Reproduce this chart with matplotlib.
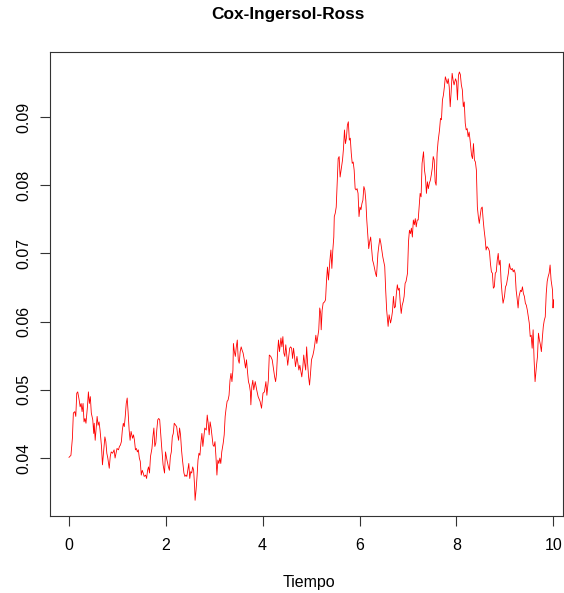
import numpy as np
import matplotlib
matplotlib.use("Agg")
import matplotlib.pyplot as plt

plt.rcParams['font.family'] = ['Liberation Sans', 'DejaVu Sans']

# Trayectoria, por tramos de tiempo
t_a = [0.01, 0.05, 0.08, 0.10, 0.13, 0.15, 0.17, 0.19, 0.22, 0.24, 0.26, 0.28, 0.30, 0.32, 0.34, 0.36,
       0.39, 0.41, 0.43, 0.45, 0.47, 0.50, 0.52, 0.53, 0.55, 0.57, 0.59, 0.61, 0.63, 0.65, 0.68, 0.70,
       0.73, 0.75, 0.77, 0.79, 0.81, 0.84, 0.86, 0.88, 0.91, 0.94, 0.96, 0.98, 1.00, 1.03, 1.05, 1.07,
       1.09, 1.11, 1.13, 1.15, 1.17, 1.19, 1.21, 1.23, 1.25, 1.27, 1.29, 1.32, 1.34, 1.36, 1.38, 1.40,
       1.42, 1.44, 1.46, 1.48, 1.50, 1.52, 1.54, 1.56, 1.59, 1.61, 1.63, 1.65, 1.67, 1.69, 1.72, 1.74,
       1.76, 1.78, 1.80, 1.82, 1.84, 1.86, 1.88]
v_a = [0.0401, 0.0404, 0.0429, 0.0466, 0.0468, 0.0461, 0.0495, 0.0497, 0.0485, 0.0475, 0.0480, 0.0468,
       0.0480, 0.0453, 0.0458, 0.0451, 0.0475, 0.0497, 0.0480, 0.0490, 0.0466, 0.0456, 0.0436, 0.0451,
       0.0426, 0.0444, 0.0461, 0.0448, 0.0453, 0.0441, 0.0417, 0.0390, 0.0414, 0.0431, 0.0424, 0.0407,
       0.0400, 0.0385, 0.0402, 0.0409, 0.0407, 0.0412, 0.0400, 0.0407, 0.0414, 0.0412, 0.0417, 0.0419,
       0.0424, 0.0441, 0.0451, 0.0446, 0.0461, 0.0480, 0.0488, 0.0466, 0.0441, 0.0426, 0.0439, 0.0429,
       0.0434, 0.0426, 0.0412, 0.0414, 0.0409, 0.0412, 0.0400, 0.0395, 0.0375, 0.0382, 0.0378, 0.0373,
       0.0375, 0.0370, 0.0382, 0.0387, 0.0378, 0.0402, 0.0414, 0.0431, 0.0444, 0.0417, 0.0422, 0.0441,
       0.0456, 0.0458, 0.0456]

t_b = [1.92, 1.95, 1.98, 2.00, 2.03, 2.06, 2.08, 2.10, 2.12, 2.14, 2.16, 2.18, 2.21, 2.23, 2.25, 2.27,
       2.29, 2.31, 2.33, 2.35, 2.38, 2.40, 2.42, 2.44, 2.46, 2.48, 2.50, 2.52, 2.54, 2.56, 2.58, 2.60,
       2.61, 2.63, 2.65, 2.67, 2.69, 2.71, 2.73, 2.75, 2.77, 2.79, 2.81, 2.84, 2.86, 2.88, 2.90, 2.92,
       2.94, 2.96, 2.98, 3.00, 3.02, 3.04, 3.06, 3.08, 3.10, 3.12, 3.14, 3.16, 3.19, 3.21, 3.23, 3.25,
       3.27, 3.29, 3.31, 3.33, 3.35, 3.37, 3.39, 3.40, 3.42, 3.44, 3.46, 3.48, 3.50, 3.52, 3.54, 3.56,
       3.58, 3.60, 3.62, 3.65, 3.67, 3.69, 3.71, 3.73, 3.75, 3.76, 3.78, 3.80, 3.82, 3.85]
v_b = [0.0417, 0.0390, 0.0378, 0.0409, 0.0397, 0.0387, 0.0382, 0.0402, 0.0409, 0.0431, 0.0436, 0.0451,
       0.0448, 0.0446, 0.0434, 0.0426, 0.0444, 0.0434, 0.0412, 0.0397, 0.0378, 0.0373, 0.0375, 0.0373,
       0.0382, 0.0392, 0.0370, 0.0380, 0.0378, 0.0387, 0.0382, 0.0358, 0.0338, 0.0353, 0.0373, 0.0397,
       0.0407, 0.0404, 0.0422, 0.0436, 0.0417, 0.0431, 0.0444, 0.0441, 0.0463, 0.0451, 0.0434, 0.0453,
       0.0444, 0.0431, 0.0419, 0.0417, 0.0424, 0.0402, 0.0375, 0.0397, 0.0392, 0.0400, 0.0392, 0.0409,
       0.0422, 0.0434, 0.0461, 0.0473, 0.0483, 0.0485, 0.0492, 0.0514, 0.0524, 0.0512, 0.0529, 0.0568,
       0.0556, 0.0549, 0.0563, 0.0573, 0.0544, 0.0539, 0.0556, 0.0563, 0.0558, 0.0554, 0.0546, 0.0532,
       0.0544, 0.0527, 0.0512, 0.0507, 0.0497, 0.0478, 0.0505, 0.0514, 0.0500, 0.0512]

t_c = [3.88, 3.91, 3.95, 3.98, 4.01, 4.04, 4.07, 4.09, 4.12, 4.14, 4.17, 4.20, 4.22, 4.25, 4.27, 4.29,
       4.31, 4.33, 4.35, 4.38, 4.40, 4.42, 4.44, 4.46, 4.48, 4.50, 4.52, 4.54, 4.56, 4.58, 4.60, 4.62,
       4.64, 4.66, 4.68, 4.71, 4.73, 4.75, 4.77, 4.79, 4.81, 4.83, 4.85, 4.87, 4.89, 4.91, 4.93, 4.95,
       4.97, 4.99, 5.01, 5.04, 5.06, 5.08, 5.10, 5.12, 5.14, 5.16, 5.18, 5.20, 5.21, 5.23, 5.25, 5.28,
       5.30, 5.32, 5.34, 5.36, 5.39, 5.41, 5.43, 5.45, 5.47, 5.48, 5.50, 5.52, 5.54, 5.56, 5.58, 5.60,
       5.62, 5.65, 5.67, 5.69, 5.71, 5.73, 5.75, 5.77, 5.79, 5.81, 5.83, 5.85, 5.87, 5.89, 5.91, 5.93,
       5.95, 5.97, 5.99, 6.01, 6.03, 6.05, 6.07, 6.09, 6.11]
v_c = [0.0500, 0.0490, 0.0483, 0.0473, 0.0495, 0.0497, 0.0512, 0.0492, 0.0514, 0.0551, 0.0549, 0.0544,
       0.0534, 0.0519, 0.0512, 0.0524, 0.0554, 0.0573, 0.0556, 0.0576, 0.0563, 0.0578, 0.0554, 0.0549,
       0.0566, 0.0551, 0.0536, 0.0549, 0.0561, 0.0563, 0.0561, 0.0546, 0.0561, 0.0549, 0.0534, 0.0549,
       0.0539, 0.0529, 0.0536, 0.0527, 0.0519, 0.0532, 0.0551, 0.0539, 0.0529, 0.0563, 0.0539, 0.0519,
       0.0507, 0.0524, 0.0544, 0.0551, 0.0558, 0.0568, 0.0580, 0.0568, 0.0578, 0.0588, 0.0620, 0.0612,
       0.0588, 0.0617, 0.0627, 0.0629, 0.0632, 0.0661, 0.0680, 0.0661, 0.0690, 0.0705, 0.0678, 0.0705,
       0.0724, 0.0754, 0.0759, 0.0768, 0.0803, 0.0839, 0.0842, 0.0812, 0.0822, 0.0837, 0.0854, 0.0881,
       0.0861, 0.0869, 0.0888, 0.0893, 0.0866, 0.0869, 0.0847, 0.0832, 0.0834, 0.0822, 0.0795, 0.0793,
       0.0795, 0.0788, 0.0754, 0.0768, 0.0764, 0.0773, 0.0778, 0.0798, 0.0793]

t_d = [6.13, 6.15, 6.17, 6.19, 6.21, 6.23, 6.25, 6.27, 6.29, 6.31, 6.33, 6.35, 6.38, 6.40, 6.42, 6.44,
       6.46, 6.48, 6.50, 6.52, 6.54, 6.56, 6.58, 6.59, 6.61, 6.64, 6.66, 6.68, 6.70, 6.72, 6.74, 6.76,
       6.78, 6.80, 6.82, 6.84, 6.86, 6.88, 6.90, 6.92, 6.94, 6.96, 6.99, 7.01, 7.03, 7.05, 7.07, 7.09,
       7.11, 7.13, 7.15, 7.17, 7.19, 7.21, 7.23, 7.25, 7.27, 7.29, 7.32, 7.34, 7.36, 7.38, 7.40, 7.42,
       7.44, 7.46, 7.48, 7.50, 7.52, 7.54, 7.56, 7.58, 7.60, 7.62, 7.65, 7.67, 7.69, 7.71, 7.73, 7.75,
       7.77, 7.79, 7.81, 7.83, 7.85, 7.87, 7.89, 7.91, 7.93, 7.95, 7.98, 8.00, 8.02, 8.04, 8.06]
v_d = [0.0778, 0.0749, 0.0729, 0.0707, 0.0717, 0.0724, 0.0707, 0.0690, 0.0685, 0.0678, 0.0671, 0.0666,
       0.0700, 0.0712, 0.0722, 0.0715, 0.0705, 0.0695, 0.0688, 0.0681, 0.0646, 0.0617, 0.0602, 0.0593,
       0.0610, 0.0598, 0.0605, 0.0615, 0.0637, 0.0620, 0.0622, 0.0641, 0.0654, 0.0646, 0.0649, 0.0627,
       0.0612, 0.0624, 0.0629, 0.0637, 0.0656, 0.0659, 0.0671, 0.0717, 0.0734, 0.0729, 0.0737, 0.0724,
       0.0749, 0.0742, 0.0751, 0.0739, 0.0749, 0.0749, 0.0768, 0.0788, 0.0783, 0.0832, 0.0849, 0.0822,
       0.0812, 0.0788, 0.0805, 0.0795, 0.0803, 0.0807, 0.0815, 0.0825, 0.0842, 0.0837, 0.0805, 0.0800,
       0.0847, 0.0864, 0.0881, 0.0898, 0.0896, 0.0925, 0.0932, 0.0944, 0.0959, 0.0954, 0.0949, 0.0956,
       0.0944, 0.0915, 0.0937, 0.0964, 0.0954, 0.0947, 0.0956, 0.0952, 0.0925, 0.0961, 0.0966]

t_e = [8.08, 8.10, 8.12, 8.14, 8.16, 8.18, 8.20, 8.22, 8.24, 8.26, 8.28, 8.31, 8.33, 8.35, 8.37, 8.39,
       8.41, 8.43, 8.45, 8.47, 8.49, 8.51, 8.53, 8.55, 8.57, 8.59, 8.61, 8.63, 8.66, 8.68, 8.70, 8.72,
       8.74, 8.76, 8.78, 8.80, 8.82, 8.84, 8.86, 8.88, 8.90, 8.92, 8.94, 8.96, 8.99, 9.01, 9.03, 9.05,
       9.07, 9.09, 9.11, 9.13, 9.15, 9.17, 9.19, 9.21, 9.23, 9.25, 9.27, 9.29, 9.32, 9.34, 9.36, 9.38,
       9.40, 9.42, 9.44, 9.46, 9.48, 9.50, 9.52, 9.54, 9.56, 9.58, 9.60, 9.62, 9.65, 9.67, 9.69, 9.71,
       9.73, 9.75, 9.77, 9.79, 9.81, 9.83, 9.85, 9.87, 9.89, 9.91, 9.93, 9.95, 9.98, 9.99, 10.00]
v_e = [0.0962, 0.0947, 0.0940, 0.0915, 0.0922, 0.0891, 0.0881, 0.0883, 0.0871, 0.0878, 0.0866, 0.0844,
       0.0839, 0.0861, 0.0837, 0.0834, 0.0822, 0.0768, 0.0754, 0.0744, 0.0756, 0.0766, 0.0768, 0.0749,
       0.0734, 0.0722, 0.0705, 0.0710, 0.0707, 0.0703, 0.0685, 0.0673, 0.0671, 0.0649, 0.0651, 0.0671,
       0.0673, 0.0690, 0.0700, 0.0683, 0.0690, 0.0659, 0.0641, 0.0627, 0.0637, 0.0651, 0.0654, 0.0663,
       0.0671, 0.0685, 0.0678, 0.0676, 0.0678, 0.0673, 0.0676, 0.0671, 0.0646, 0.0634, 0.0620, 0.0637,
       0.0646, 0.0644, 0.0651, 0.0641, 0.0637, 0.0627, 0.0624, 0.0617, 0.0607, 0.0598, 0.0578, 0.0580,
       0.0561, 0.0588, 0.0544, 0.0512, 0.0536, 0.0549, 0.0583, 0.0573, 0.0566, 0.0556, 0.0576, 0.0593,
       0.0602, 0.0607, 0.0641, 0.0659, 0.0666, 0.0671, 0.0683, 0.0661, 0.0646, 0.0620, 0.0632]

x_ticks = [0, 2, 4, 6, 8, 10]
y_ticks = [0.04, 0.05, 0.06, 0.07, 0.08, 0.09]

for tt, vv in [(t_a, v_a), (t_b, v_b), (t_c, v_c), (t_d, v_d), (t_e, v_e)]:
    assert len(tt) == len(vv), (len(tt), len(vv))

tiempo = np.concatenate([t_a, t_b, t_c, t_d, t_e])
tasa = np.concatenate([v_a, v_b, v_c, v_d, v_e])

W, H = 564, 593
fig = plt.figure(figsize=(W / 100, H / 100), dpi=100)
ax = fig.add_axes([49.5 / W, (H - 516) / H, (563 - 49.5) / W, (516 - 52) / H])

ax.plot(tiempo, tasa, color='#ff0000', lw=0.6)

ax.set_xlim(-0.392, 10.196)
ax.set_ylim(0.0315, 0.09953)
ax.set_xticks(x_ticks)
ax.set_xticklabels([str(x) for x in x_ticks])
ax.set_yticks(y_ticks)
ax.set_yticklabels(['%.2f' % y for y in y_ticks], rotation=90, va='center')

for s in ax.spines.values():
    s.set_linewidth(0.8)
    s.set_color('#333333')
ax.tick_params(axis='both', length=7.2, width=0.8, color='#333333', labelsize=11.5)
ax.tick_params(axis='x', pad=9)
ax.tick_params(axis='y', pad=5.5)

fig.text(288 / W, 1 - 15 / H, 'Cox-Ingersol-Ross', ha='center', va='center',
         fontsize=12.4, fontweight='bold')
fig.text(309 / W, 1 - 582 / H, 'Tiempo', ha='center', va='center', fontsize=11.5)

fig.savefig('out.png', dpi=100)
